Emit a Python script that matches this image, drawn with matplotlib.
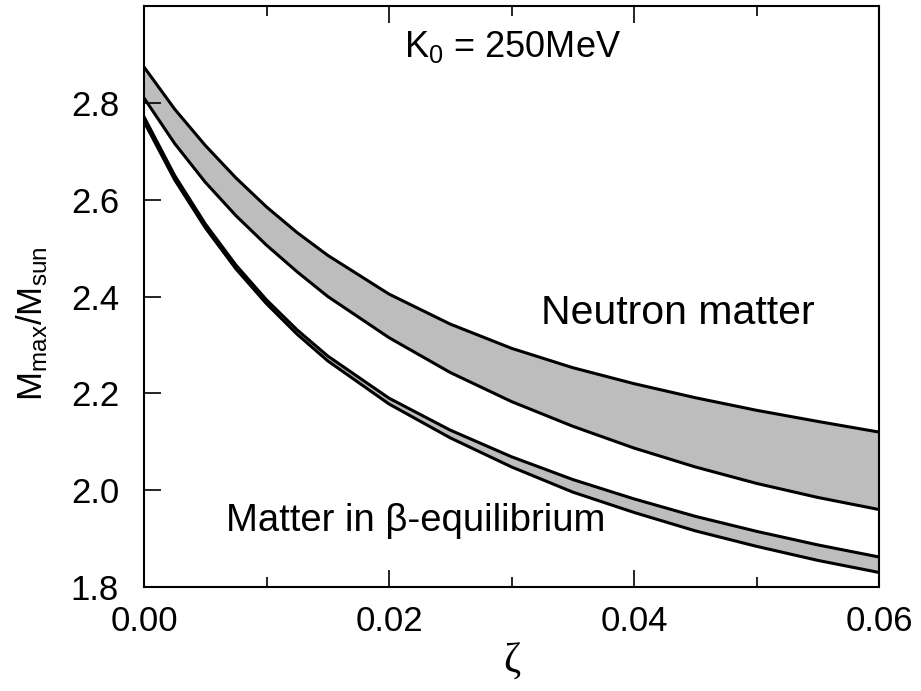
"""Maximum mass vs zeta for neutron matter and beta-equilibrium matter."""

import matplotlib
matplotlib.use("Agg")
import matplotlib.pyplot as plt
from matplotlib.ticker import MultipleLocator

plt.rcParams["font.family"] = ["Liberation Sans", "DejaVu Sans"]
plt.rcParams["mathtext.fontset"] = "custom"
plt.rcParams["mathtext.rm"] = "Liberation Sans"
plt.rcParams["mathtext.it"] = "Liberation Sans"

zeta = [0.0, 0.0025, 0.005, 0.0075, 0.01, 0.0125, 0.015, 0.02,
        0.025, 0.03, 0.035, 0.04, 0.045, 0.05, 0.055, 0.06]

neutron_upper = [2.874, 2.787, 2.712, 2.645, 2.585, 2.532, 2.485, 2.405,
                 2.343, 2.293, 2.253, 2.220, 2.191, 2.165, 2.142, 2.120]
neutron_lower = [2.810, 2.716, 2.636, 2.567, 2.506, 2.451, 2.400, 2.315,
                 2.243, 2.183, 2.132, 2.087, 2.048, 2.014, 1.985, 1.960]

beta_upper = [2.771, 2.650, 2.550, 2.465, 2.393, 2.331, 2.277, 2.190,
              2.124, 2.069, 2.022, 1.982, 1.946, 1.915, 1.887, 1.862]
beta_lower = [2.761, 2.641, 2.542, 2.457, 2.385, 2.322, 2.267, 2.178,
              2.108, 2.048, 1.996, 1.954, 1.916, 1.884, 1.855, 1.830]


def main() -> None:
    fig = plt.figure(figsize=(9.21, 6.91), dpi=100)
    ax = fig.add_axes([0.1564, 0.1505, 0.798, 0.8408])

    for lo, hi in ((neutron_lower, neutron_upper), (beta_lower, beta_upper)):
        ax.fill_between(zeta, lo, hi, facecolor="#bdbdbd", edgecolor="none")
        ax.plot(zeta, hi, color="black", lw=2.2)
        ax.plot(zeta, lo, color="black", lw=2.2)

    ax.set_xlim(0.0, 0.06)
    ax.set_ylim(1.8, 3.0)
    ax.xaxis.set_minor_locator(MultipleLocator(0.01))
    ax.set_xticks([0.0, 0.02, 0.04, 0.06])
    ax.set_xticklabels(["0.00", "0.02", "0.04", "0.06"])
    ax.set_yticks([1.8, 2.0, 2.2, 2.4, 2.6, 2.8])
    ax.set_yticklabels(["1.8", "2.0", "2.2", "2.4", "2.6", "2.8"])

    ax.tick_params(which="both", direction="in", top=True, right=False,
                   width=1.2, labelsize=25)
    ax.tick_params(which="major", length=12)
    ax.tick_params(which="minor", length=7)
    ax.tick_params(axis="x", pad=13)
    ax.tick_params(axis="y", pad=18)
    for s in ax.spines.values():
        s.set_linewidth(1.5)

    ax.set_xlabel("ζ", fontsize=30, family=["Liberation Serif", "DejaVu Serif"],
                  labelpad=4)
    ax.set_ylabel(r"M$_{\rm max}$/M$_{\rm sun}$", fontsize=25)
    ax.yaxis.set_label_coords(-0.128, 0.453)

    ax.text(0.0301, 2.915, r"K$_{0}$ = 250MeV", fontsize=26,
            ha="center", va="center")
    ax.text(0.0436, 2.365, "Neutron matter", fontsize=29.5,
            ha="center", va="center")
    ax.text(0.0222, 1.937, "Matter in β-equilibrium", fontsize=27.5,
            ha="center", va="center")

    fig.savefig("out.png", dpi=100)
    plt.close(fig)


if __name__ == "__main__":
    main()
